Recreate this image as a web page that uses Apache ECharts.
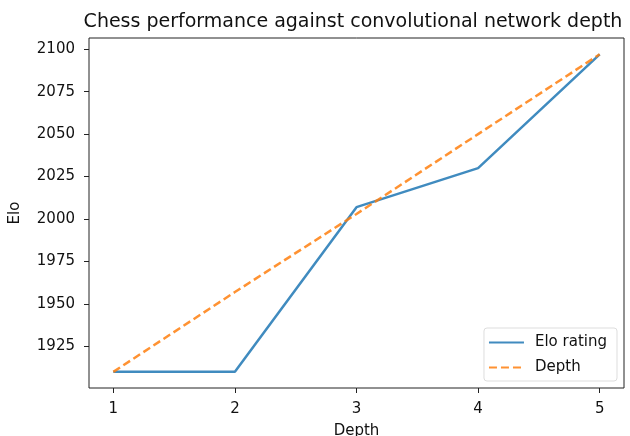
<!DOCTYPE html>
<html>
<head>
<meta charset="utf-8">
<script src="https://cdn.jsdelivr.net/npm/echarts@6/dist/echarts.min.js"></script>
<style>html,body{margin:0;padding:0;background:#fff;}#c{width:630px;height:436px;}</style>
</head>
<body>
<div id="c"></div>
<script>
var depths = [1, 2, 3, 4, 5];
var eloRating = [1910, 1910, 2007, 2030, 2097];
var depthLine = [1910, 1957, 2003, 2050, 2097];
var xTicks = [1, 2, 3, 4, 5];
var yTicks = [1925, 1950, 1975, 2000, 2025, 2050, 2075, 2100];

var FONT = 'DejaVu Sans';
var chart = echarts.init(document.getElementById('c'), null, {renderer: 'canvas'});
function pairs(xs, ys) { return xs.map(function (x, i) { return [x, ys[i]]; }); }

chart.setOption({
  backgroundColor: '#fff',
  animation: false,
  title: {
    text: 'Chess performance against convolutional network depth',
    left: 348, top: 8, textAlign: 'center',
    textStyle: {fontFamily: FONT, fontSize: 19, fontWeight: 'normal', color: '#111'}
  },
  grid: {left: 89, right: 6, top: 38, bottom: 48, outerBoundsMode: 'none', containLabel: false,
    show: true, borderColor: '#222', borderWidth: 1, backgroundColor: 'transparent'},
  legend: {
    orient: 'vertical', right: 13, bottom: 55,
    data: ['Elo rating', 'Depth'],
    itemWidth: 35, itemHeight: 14, itemGap: 10,
    padding: [7, 10, 6, 4],
    itemStyle: {opacity: 0},
    backgroundColor: '#fff', borderColor: '#ddd', borderWidth: 1, borderRadius: 3,
    textStyle: {fontFamily: FONT, fontSize: 15, color: '#111', padding: [0, 0, 0, 6]}
  },
  xAxis: {
    type: 'value', min: 0.8, max: 5.2,
    name: 'Depth', nameLocation: 'middle', nameGap: 36,
    nameTextStyle: {fontFamily: FONT, fontSize: 15, color: '#111'},
    axisLine: {show: false},
    axisTick: {show: true, length: 5, lineStyle: {color: '#222'}, customValues: xTicks},
    axisLabel: {fontFamily: FONT, fontSize: 15, color: '#111', margin: 14, customValues: xTicks,
      formatter: function (v) { return String(v); }},
    splitLine: {show: false}
  },
  yAxis: {
    type: 'value', min: 1900.5, max: 2106.6,
    name: 'Elo', nameLocation: 'middle', nameGap: 66, nameRotate: 90,
    nameTextStyle: {fontFamily: FONT, fontSize: 15, color: '#111'},
    axisLine: {show: false},
    axisTick: {show: true, length: 5, lineStyle: {color: '#222'}, customValues: yTicks},
    axisLabel: {fontFamily: FONT, fontSize: 15, color: '#111', margin: 14, customValues: yTicks,
      formatter: function (v) { return String(v); }},
    splitLine: {show: false}
  },
  series: [
    {
      name: 'Elo rating', type: 'line', data: pairs(depths, eloRating),
      symbol: 'none', color: '#1f77b4',
      lineStyle: {color: '#1f77b4', width: 2.5, opacity: 0.85}
    },
    {
      name: 'Depth', type: 'line', data: pairs(depths, depthLine),
      symbol: 'none', color: '#ff7f0e',
      lineStyle: {color: '#ff7f0e', width: 2.5, type: [8, 4], opacity: 0.85}
    }
  ]
});
</script>
</body>
</html>
